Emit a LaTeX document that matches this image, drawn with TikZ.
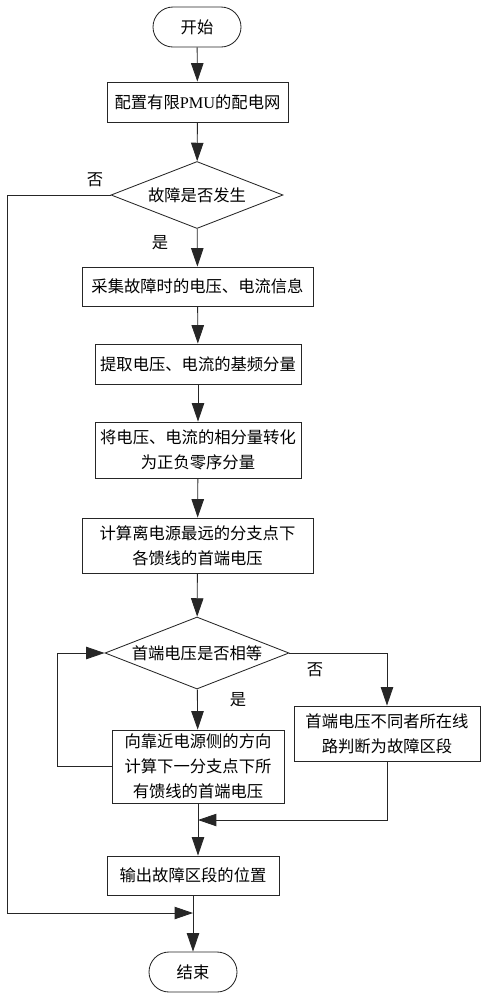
\documentclass[tikz,border=0pt]{standalone}
\usepackage{fontspec}
\setmainfont{Liberation Serif}
\newfontfamily\cjk{Noto Sans CJK SC}
\usepackage{tikz}
\usetikzlibrary{positioning,arrows.meta,shapes.geometric,calc}
\tikzset{
  pbox/.style ={rectangle, draw=black!85, fill=white, line width=0.6pt,
                align=center, inner sep=2pt, font=\cjk\fontsize{11.6}{17.7}\selectfont},
  tbox/.style ={pbox, rounded corners=5mm, minimum width=22mm, minimum height=10mm},
  dbox/.style ={pbox, diamond, aspect=2.6, inner sep=0pt},
  arr/.style  ={-{Triangle[length=4.6mm, width=3.1mm]}, line width=0.6pt, draw=black!85},
  el/.style   ={font=\cjk\fontsize{11.6}{14}\selectfont, inner sep=1pt},
}

\begin{document}
\begin{tikzpicture}[x=0.25mm, y=-0.25mm]
  \useasboundingbox (0,0) rectangle (487,1000);
  % main column
  \node[tbox] (start) at (197,27) {开始};
  \node[pbox, minimum width=45.25mm, minimum height=10mm] (cfg) at (197.5,102) {配置有限{\rmfamily PMU}的配电网};
  \node[dbox, minimum width=43mm, minimum height=16.75mm] (dec1) at (197,195) {故障是否发生};
  \node[pbox, minimum width=57.75mm, minimum height=9.75mm] (acq) at (197.5,286.5) {采集故障时的电压、电流信息};
  \node[pbox, minimum width=51.5mm, minimum height=10mm] (ext) at (198,364) {提取电压、电流的基频分量};
  \node[pbox, minimum width=51.5mm, minimum height=14mm] (conv) at (198,450) {将电压、电流的相分量转化\\为正负零序分量};
  \node[pbox, minimum width=57.75mm, minimum height=13.75mm] (calc) at (197.5,545.5) {计算离电源最远的分支点下\\各馈线的首端电压};
  \node[dbox, minimum width=46mm, minimum height=18mm] (dec2) at (197,653) {首端电压是否相等};
  \node[pbox, minimum width=43mm, minimum height=18.25mm] (next) at (198,766.5) {向靠近电源侧的方向\\计算下一分支点下所\\有馈线的首端电压};
  \node[pbox, minimum width=46.5mm, minimum height=13.75mm] (judge) at (387,733.5) {首端电压不同者所在线\\路判断为故障区段};
  \node[pbox, minimum width=43mm, minimum height=9.75mm] (out) at (193,875.5) {输出故障区段的位置};
  \node[tbox] (stop) at (193,972) {结束};
  % junctions
  \coordinate (j1) at (198,820);
  \coordinate (j2) at (193,913);
  % labels
  \node[el] (no1)  at (95,180)  {否};
  \node[el] (yes1) at (160,243) {是};
  \node[el] (yes2) at (238,700) {是};
  \node[el] (no2)  at (315,670) {否};
  % connectors
  \draw[arr] (start) -- (cfg);
  \draw[arr] (cfg) -- (dec1);
  \draw[arr] (dec1) -- (acq);
  \draw[arr] (acq) -- (ext);
  \draw[arr] (ext) -- (conv);
  \draw[arr] (conv) -- (calc);
  \draw[arr] (calc) -- (dec2);
  \draw[arr] (dec2) -- (next);
  \draw[arr] (dec2.east) -| (judge.north);
  \draw[arr] (next.west) -- ++(-54,0) |- (dec2.west);
  \draw[arr] (judge.south) |- (j1);
  \draw[arr] (next.south) -- (next.south |- out.north);
  \draw[arr] (dec1.west) -- (7,195) |- (j2);
  \draw[arr] (out.south) -- (stop.north);
\end{tikzpicture}
\end{document}
